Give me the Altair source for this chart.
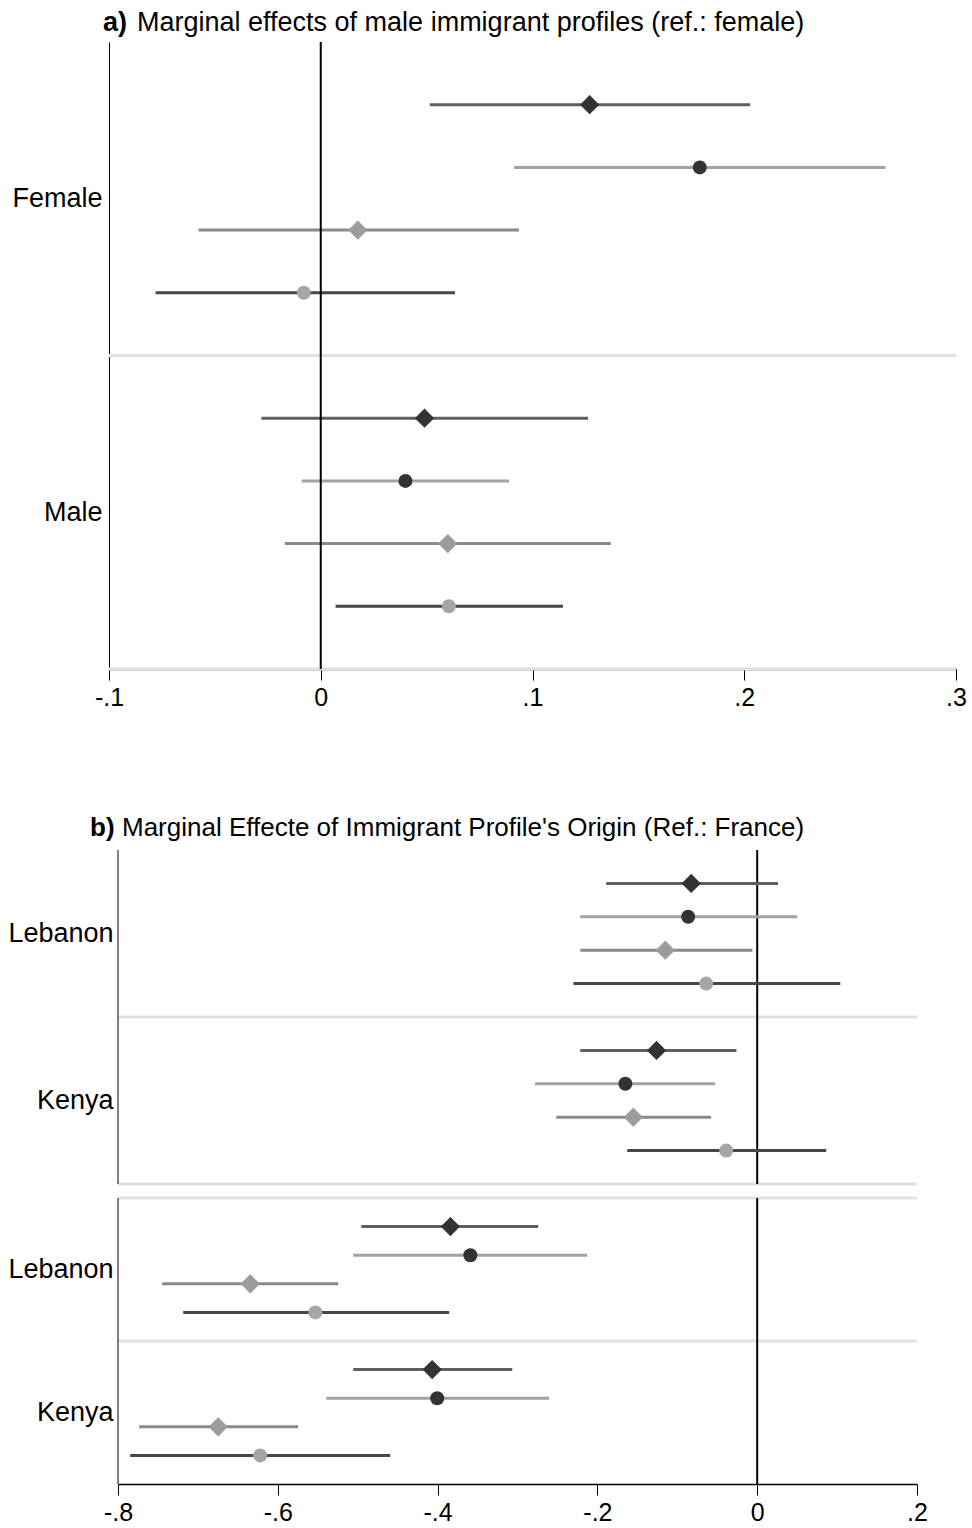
import altair as alt
import pandas as pd

FONT = "Liberation Sans"

series = ["Model 1", "Model 2", "Model 3", "Model 4"]
line_colors = ["#5f5f5f", "#a3a3a3", "#8a8a8a", "#474747"]
marker_colors = ["#333333", "#333333", "#9c9c9c", "#a6a6a6"]
diamond_series = ["Model 1", "Model 3"]
circle_series = ["Model 2", "Model 4"]

# row positions inside each panel (slot 5 holds the separator)
positions = [1, 2, 3, 4, 6, 7, 8, 9]
row_series = series + series

# Panel a: Female / Male
groups_a = ["Female", "Male"]
est_a = [0.127, 0.179, 0.0175, -0.008, 0.049, 0.040, 0.060, 0.0605]
lo_a = [0.0515, 0.0913, -0.0577, -0.078, -0.028, -0.009, -0.017, 0.007]
hi_a = [0.2028, 0.2667, 0.0936, 0.0634, 0.1262, 0.0889, 0.137, 0.1144]

# Panel b upper: Lebanon / Kenya
groups_b1 = ["Lebanon", "Kenya"]
est_b1 = [-0.0826, -0.0864, -0.115, -0.0638, -0.126, -0.165, -0.155, -0.0388]
lo_b1 = [-0.189, -0.2215, -0.2215, -0.230, -0.2215, -0.278, -0.2516, -0.1627]
hi_b1 = [0.026, 0.050, -0.006, 0.104, -0.026, -0.0526, -0.0576, 0.0864]

# Panel b lower: Lebanon / Kenya
groups_b2 = ["Lebanon", "Kenya"]
est_b2 = [-0.384, -0.359, -0.6345, -0.553, -0.4068, -0.4005, -0.6746, -0.622]
lo_b2 = [-0.4956, -0.5056, -0.7447, -0.7184, -0.5056, -0.5394, -0.7735, -0.7847]
hi_b2 = [-0.274, -0.2128, -0.5244, -0.3855, -0.3066, -0.2603, -0.5745, -0.4593]

ticks_a = [-0.1, 0, 0.1, 0.2, 0.3]
ticks_b = [-0.8, -0.6, -0.4, -0.2, 0, 0.2]

title_a_bold = "a)"
title_a_text = "Marginal effects of male immigrant profiles (ref.: female)"
title_b_bold = "b)"
title_b_text = "Marginal Effecte of Immigrant Profile's Origin (Ref.: France)"

LABEL_EXPR = ("datum.value == 0 ? '0' : (datum.value < 0 ? '-' : '') + "
              "replace(format(abs(datum.value), '.1f'), '0.', '.')")


def make_df(est, lo, hi):
    return pd.DataFrame({"pos": positions, "series": row_series,
                         "est": est, "lo": lo, "hi": hi})


def panel(df, groups, domain, ticks, width, height, xrange, label_pad,
          seps, show_x, zero_on_top, own_yline, title=None):
    if xrange is None:
        xscale = alt.Scale(domain=domain, nice=False, zero=False)
    else:
        xscale = alt.Scale(domain=domain, nice=False, zero=False, range=xrange)
    yscale = alt.Scale(domain=[0, 10], reverse=True, nice=False, zero=False)
    if show_x:
        xaxis = alt.Axis(values=ticks, labelExpr=LABEL_EXPR, title=None, grid=False,
                         tickSize=11, tickWidth=1, tickColor="black",
                         domainColor="black", domainWidth=1.5,
                         labelFontSize=25, labelFont=FONT, labelColor="black",
                         labelPadding=5, labelFlush=False)
    else:
        xaxis = None
    yaxis = alt.Axis(values=[2.5, 7.5],
                     labelExpr=f"datum.value < 5 ? '{groups[0]}' : '{groups[1]}'",
                     title=None, grid=False, ticks=False,
                     domain=not own_yline, domainColor="black",
                     domainWidth=1, labelFontSize=27, labelFont=FONT,
                     labelColor="black", labelPadding=label_pad,
                     minExtent=104, maxExtent=104)

    base = alt.Chart(df)
    sep_df = pd.DataFrame({"pos": seps, "xa": [domain[0]] * len(seps),
                           "xb": [domain[1]] * len(seps)})
    sep = alt.Chart(sep_df).mark_rule(color="#e1e1e1", strokeWidth=3).encode(
        y=alt.Y("pos:Q", scale=yscale, axis=yaxis),
        x=alt.X("xa:Q", scale=xscale, axis=xaxis),
        x2="xb:Q")
    zero = alt.Chart(pd.DataFrame({"z": [0]})).mark_rule(
        color="black", strokeWidth=2).encode(
        x=alt.X("z:Q", scale=xscale, axis=xaxis))
    bars = base.mark_rule(strokeWidth=3).encode(
        x=alt.X("lo:Q", scale=xscale, axis=xaxis),
        x2="hi:Q",
        y=alt.Y("pos:Q", scale=yscale, axis=yaxis),
        stroke=alt.Stroke("series:N", scale=alt.Scale(domain=series, range=line_colors),
                          legend=None),
    )
    fill = alt.Fill("series:N", scale=alt.Scale(domain=series, range=marker_colors),
                    legend=None)
    diamonds = base.transform_filter(
        alt.FieldOneOfPredicate(field="series", oneOf=diamond_series)
    ).mark_point(filled=True, opacity=1, strokeWidth=0, shape="diamond", size=370).encode(
        x=alt.X("est:Q", scale=xscale, axis=xaxis),
        y=alt.Y("pos:Q", scale=yscale, axis=yaxis),
        fill=fill)
    circles = base.transform_filter(
        alt.FieldOneOfPredicate(field="series", oneOf=circle_series)
    ).mark_point(filled=True, opacity=1, strokeWidth=0, shape="circle", size=196).encode(
        x=alt.X("est:Q", scale=xscale, axis=xaxis),
        y=alt.Y("pos:Q", scale=yscale, axis=yaxis),
        fill=fill)
    layers = [sep]
    if own_yline:
        yline = alt.Chart(pd.DataFrame({"x": [domain[0]]})).mark_rule(
            color="black", strokeWidth=1).encode(
            x=alt.X("x:Q", scale=xscale, axis=xaxis))
        layers.append(yline)
    if zero_on_top:
        layers += [bars, zero, diamonds, circles]
    else:
        layers += [zero, bars, diamonds, circles]
    if title is not None:
        bold, text, bx, tx, ty, fs = title
        t1 = alt.Chart(pd.DataFrame({"t": [bold]})).mark_text(
            font=FONT, fontSize=fs, fontWeight="bold", align="left",
            baseline="alphabetic", color="black").encode(
            text="t:N", x=alt.value(bx), y=alt.value(ty))
        t2 = alt.Chart(pd.DataFrame({"t": [text]})).mark_text(
            font=FONT, fontSize=fs, align="left",
            baseline="alphabetic", color="black").encode(
            text="t:N", x=alt.value(tx), y=alt.value(ty))
        layers += [t1, t2]
    return alt.layer(*layers).properties(width=width, height=height)


chart_a = panel(make_df(est_a, lo_a, hi_a), groups_a, [-0.1, 0.3], ticks_a,
                847, 627, None, 7, [5, 10], True, True, False,
                title=(title_a_bold, title_a_text, -6, 28, -11, 27))
chart_b1 = panel(make_df(est_b1, lo_b1, hi_b1), groups_b1, [-0.8, 0.2], ticks_b,
                 847, 334, [9, 808], -4, [5, 10], False, False, True,
                 title=(title_b_bold, title_b_text, -19, 13, -14, 26))
chart_b2 = panel(make_df(est_b2, lo_b2, hi_b2), groups_b2, [-0.8, 0.2], ticks_b,
                 847, 286, [9, 808], -4, [0, 5], True, False, True)

lower = alt.vconcat(chart_b1, chart_b2, spacing=10).resolve_scale(
    x="independent", y="independent", stroke="independent", fill="independent")

chart = alt.vconcat(chart_a, lower, spacing=105).resolve_scale(
    x="independent", y="independent", stroke="independent", fill="independent"
).properties(
    padding={"left": 5, "top": 9, "right": 5, "bottom": 5},
    background="white"
).configure_view(stroke=None)

chart.save("out.html", embed_options={"renderer": "svg", "actions": False})
